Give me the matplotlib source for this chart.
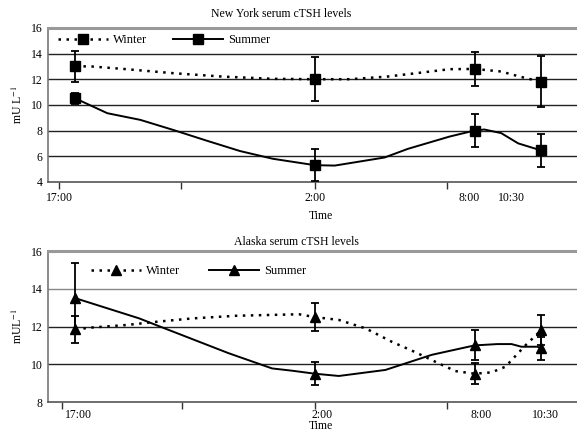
import matplotlib
matplotlib.use("Agg")
import matplotlib.pyplot as plt
from matplotlib.lines import Line2D

plt.rcParams['font.family'] = ['Liberation Serif', 'DejaVu Serif']
plt.rcParams['mathtext.fontset'] = 'stix'

# sampling times, hours after 17:00
times = [0, 9, 15, 17.5]
time_labels = ['17:00', '2:00', '8:00', '10:30']

# New York
ny_winter_mean = [13.0, 12.0, 12.8, 11.8]
ny_winter_sd = [1.2, 1.7, 1.35, 2.0]
ny_summer_mean = [10.5, 5.3, 8.0, 6.45]
ny_summer_sd = [0.45, 1.25, 1.3, 1.3]
ny_winter_curve_t = [0, 0.56, 1.8, 3.67, 5.55, 7.42, 9, 10.31, 11.7, 12.82, 14.06, 15, 16.0, 16.7, 17.5]
ny_winter_curve_v = [13.0, 13.0, 12.8, 12.47, 12.2, 12.03, 12.0, 12.0, 12.2, 12.47, 12.78, 12.8, 12.6, 12.2, 11.8]
ny_summer_curve_t = [0, 1.2, 2.44, 3.67, 4.95, 6.19, 7.42, 9, 9.75, 11.62, 12.49, 14.06, 15, 15.37, 16.0, 16.64, 17.5]
ny_summer_curve_v = [10.5, 9.35, 8.83, 8.05, 7.2, 6.4, 5.8, 5.3, 5.27, 5.9, 6.57, 7.53, 8.0, 8.08, 7.8, 7.0, 6.45]

# Alaska
ak_winter_mean = [11.85, 12.5, 9.5, 11.8]
ak_winter_sd = [0.7, 0.75, 0.55, 0.8]
ak_summer_mean = [13.5, 9.5, 11.0, 10.85]
ak_summer_sd = [1.85, 0.6, 0.8, 0.6]
ak_winter_curve_t = [0, 0.64, 1.91, 3.04, 4.39, 6.04, 8.4, 9, 9.9, 10.91, 11.88, 12.79, 13.65, 14.28, 15, 15.64, 16.16, 16.91, 17.5]
ak_winter_curve_v = [11.85, 11.95, 12.08, 12.25, 12.43, 12.57, 12.65, 12.5, 12.35, 11.9, 11.2, 10.63, 10.05, 9.64, 9.5, 9.57, 9.87, 11.0, 11.8]
ak_summer_curve_t = [0, 2.4, 3.03, 5.77, 7.39, 8.14, 9, 9.9, 11.65, 13.39, 15, 15.86, 16.39, 16.76, 17.36, 17.5]
ak_summer_curve_v = [13.5, 12.43, 12.08, 10.58, 9.78, 9.66, 9.5, 9.38, 9.7, 10.5, 11.0, 11.07, 11.07, 10.93, 10.93, 10.85]

fig = plt.figure(figsize=(5.77, 4.32), dpi=100)
ax1 = fig.add_axes([0.0832, 0.579, 0.9168, 0.3565])
ax2 = fig.add_axes([0.0832, 0.0694, 0.9168, 0.3495])

winter_style = dict(color='black', linestyle=(0, (1, 2.2)), linewidth=1.8)
summer_style = dict(color='black', linestyle='-', linewidth=1.4)
eb_style = dict(linestyle='none', color='black', ecolor='black', elinewidth=1.3,
                capsize=3.2, capthick=1.3)


def panel(ax, marker, ms, wc, sc, wm, wsd, sm, ssd, ylim, yticks, ylabel,
          title, tick_pos, label_pos, leg_anchor, colspace, grey_grid,
          label_pad, time_y, title_pad):
    ax.set_xlim(-1.03, 18.85)
    ax.set_ylim(*ylim)
    for v in yticks[1:-1]:
        ax.axhline(v, color='#888888' if v in grey_grid else '#222222',
                   linewidth=1.0, zorder=1)
    ax.plot(wc[0], wc[1], **winter_style, zorder=2)
    ax.plot(sc[0], sc[1], **summer_style, zorder=2)
    ax.errorbar(times, wm, yerr=wsd, marker=marker, markersize=ms,
                markerfacecolor='black', markeredgecolor='black', zorder=3, **eb_style)
    ax.errorbar(times, sm, yerr=ssd, marker=marker, markersize=ms,
                markerfacecolor='black', markeredgecolor='black', zorder=3, **eb_style)

    ax.set_yticks(yticks)
    ax.tick_params(axis='y', length=0, pad=4, labelsize=8.5)
    ax.xaxis.remove_overlapping_locs = False
    ax.set_xticks(tick_pos)
    ax.set_xticklabels([])
    ax.tick_params(axis='x', which='major', length=5, width=1, direction='out', color='#333333')
    ax.set_xticks(label_pos, minor=True)
    ax.set_xticklabels(time_labels, minor=True)
    ax.tick_params(axis='x', which='minor', length=0, pad=label_pad, labelsize=8.5)
    ax.set_xlabel('Time', fontsize=8.5)
    ax.xaxis.set_label_coords(0.516, time_y)
    ax.set_ylabel(ylabel, fontsize=8.5)
    ax.yaxis.set_label_coords(-0.043, 0.5)
    ax.set_title(title, fontsize=8.5, pad=title_pad)

    ax.spines['right'].set_visible(False)
    ax.spines['top'].set_color('#999999')
    ax.spines['top'].set_linewidth(2.2)
    ax.spines['left'].set_color('#777777')
    ax.spines['left'].set_linewidth(1.2)
    ax.spines['bottom'].set_color('#555555')
    ax.spines['bottom'].set_linewidth(1.2)

    handles = [Line2D([], [], marker=marker, markersize=ms, **winter_style),
               Line2D([], [], marker=marker, markersize=ms, **summer_style)]
    ax.legend(handles, ['Winter', 'Summer'], loc='center left', bbox_to_anchor=leg_anchor,
              ncol=2, frameon=False, fontsize=9, handlelength=4.0, handletextpad=0.4,
              columnspacing=colspace, borderpad=0, borderaxespad=0)


panel(ax1, 's', 6.5, (ny_winter_curve_t, ny_winter_curve_v),
      (ny_summer_curve_t, ny_summer_curve_v),
      ny_winter_mean, ny_winter_sd, ny_summer_mean, ny_summer_sd,
      (4, 16), [4, 6, 8, 10, 12, 14, 16], 'mU L$^{-1}$',
      'New York serum cTSH levels', [-0.6, 3.95, 9, 13.95],
      [-0.6, 9, 14.8, 16.4], (0.019, 0.922), 2.1, [],
      7.0, -0.18, 7.5)

panel(ax2, '^', 7, (ak_winter_curve_t, ak_winter_curve_v),
      (ak_summer_curve_t, ak_summer_curve_v),
      ak_winter_mean, ak_winter_sd, ak_summer_mean, ak_summer_sd,
      (8, 16), [8, 10, 12, 14, 16], 'mUL$^{-1}$',
      'Alaska serum cTSH levels', [-0.52, 4.0, 9, 13.95],
      [0.1, 9.26, 15.26, 17.66], (0.081, 0.868), 2.3, [14],
      5.0, -0.12, 4.5)

ax1.title.set_position((0.44, 1.0))
ax2.title.set_position((0.47, 1.0))

fig.savefig('out.png', dpi=100)
